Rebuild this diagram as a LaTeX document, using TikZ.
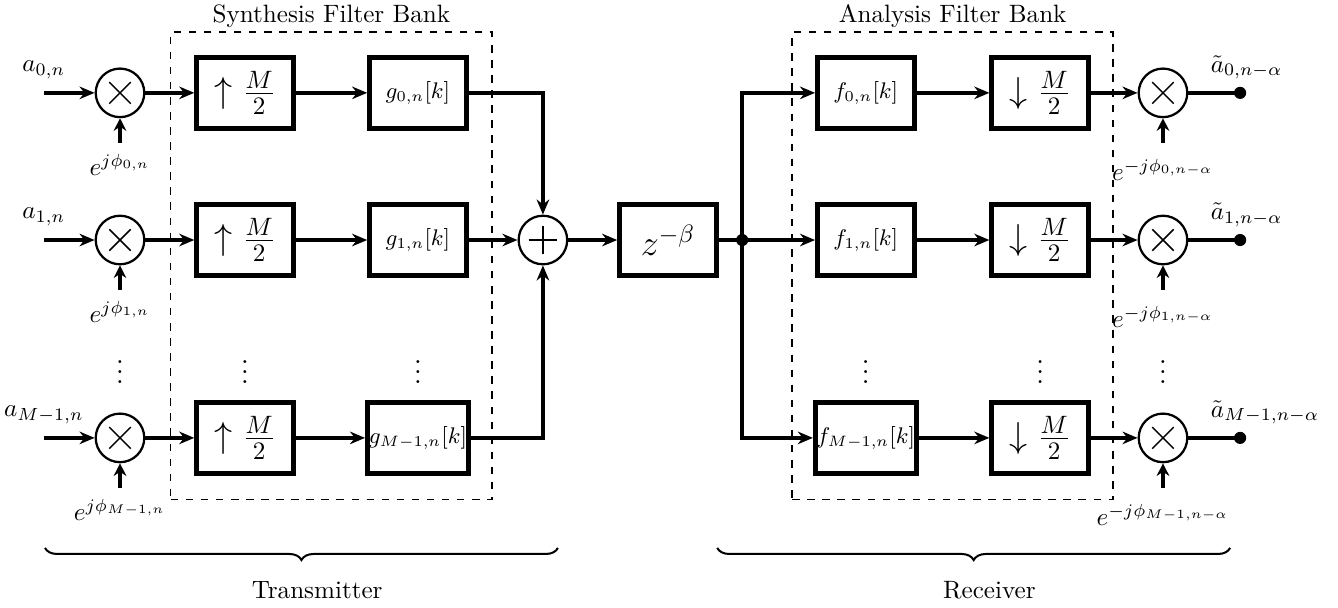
\documentclass[tikz,border=0pt]{standalone}
\usepackage{tikz}
\usetikzlibrary{arrows.meta, positioning, decorations.pathreplacing}
\tikzset{
    block/.style = {rectangle, minimum width=1.35cm, minimum height=1cm, align=center, inner sep=0.5pt, draw=black, line width=2pt},
    mixer/.style = {circle, minimum size=0.68cm, inner sep=0pt, draw=black, line width=0.9pt,
        path picture={\draw[line width=0.6pt, shift={(path picture bounding box.center)}] (-0.15,-0.15) -- (0.15,0.15) (-0.15,0.15) -- (0.15,-0.15);}},
    adder/.style = {circle, minimum size=0.68cm, inner sep=0pt, draw=black, line width=0.9pt,
        path picture={\draw[line width=0.6pt, shift={(path picture bounding box.center)}] (-0.2,0) -- (0.2,0) (0,-0.2) -- (0,0.2);}},
    bank/.style = {rectangle, draw=black, dashed, line width=0.6pt, inner sep=0pt},
    tap/.style = {circle, fill=black, inner sep=0pt, minimum size=0.17cm},
    skip/.style = {inner sep=0pt, font=\large},
    sig/.style = {line width=1.6pt, -{Stealth[length=6pt, width=5pt]}},
    wire/.style = {line width=1.6pt},
    phase/.style = {line width=1.9pt, -{Stealth[length=5pt, width=5pt]}},
    curly/.style = {decorate, decoration={brace, mirror, amplitude=0.17cm}, line width=0.8pt}
}
\begin{document}
\begin{tikzpicture}
\useasboundingbox (0,0) rectangle (18.73,-8.5);

% ---- Filter banks (dashed frames) ----
\node[bank, minimum width=4.5cm, minimum height=6.54cm] (synth) at (4.64,-3.72) {};
\node[above=-2pt of synth] (synthlbl) {Synthesis Filter Bank};
\node[bank, minimum width=4.49cm, minimum height=6.54cm] (anal) at (13.335,-3.72) {};
\node[above=-2pt of anal] (anallbl) {Analysis Filter Bank};

% ---- Transmitter, branch 0 ----
\node[mixer] (m0) at (1.68,-1.30) {};
\node[block] (up0) at (3.43,-1.30) {\Large $\uparrow \frac{M}{2}$};
\node[block] (g0) at (5.85,-1.30) {\small $g_{0,n}[k]$};
\coordinate[left=0.71cm of m0] (in0);
\coordinate[below=0.34cm of m0] (ph0);
\node[above=2pt of in0] (a0) {$a_{0,n}$};
\node[below=1pt of ph0] (e0) {$e^{j\phi_{0,n}}$};

% ---- Transmitter, branch 1 ----
\node[mixer] (m1) at (1.68,-3.36) {};
\node[block] (up1) at (3.43,-3.36) {\Large $\uparrow \frac{M}{2}$};
\node[block] (g1) at (5.85,-3.36) {\small $g_{1,n}[k]$};
\coordinate[left=0.71cm of m1] (in1);
\coordinate[below=0.34cm of m1] (ph1);
\node[above=2pt of in1] (a1) {$a_{1,n}$};
\node[below=1pt of ph1] (e1) {$e^{j\phi_{1,n}}$};

% ---- Transmitter, branch M-1 ----
\node[mixer] (m2) at (1.68,-6.13) {};
\node[block] (up2) at (3.43,-6.13) {\Large $\uparrow \frac{M}{2}$};
\node[block] (g2) at (5.85,-6.13) {\small $g_{M-1,n}[k]$};
\coordinate[left=0.71cm of m2] (in2);
\coordinate[below=0.34cm of m2] (ph2);
\node[above=2pt of in2] (a2) {$a_{M-1,n}$};
\node[below=1pt of ph2] (e2) {$e^{j\phi_{M-1,n}}$};

\node[skip] (dotsm) at (1.68,-5.1) {$\vdots$};
\node[skip] (dotsup) at (3.43,-5.1) {$\vdots$};
\node[skip] (dotsg) at (5.85,-5.1) {$\vdots$};

% ---- Channel ----
\node[adder] (sum) at (7.6,-3.36) {};
\node[block] (delay) at (9.35,-3.36) {\Large $z^{-\beta}$};
\node[tap] (branch) at (10.39,-3.36) {};

% ---- Receiver, branch 0 ----
\node[block] (f0) at (12.12,-1.30) {\small $f_{0,n}[k]$};
\node[block] (down0) at (14.56,-1.30) {\Large $\downarrow \frac{M}{2}$};
\node[mixer] (d0) at (16.28,-1.30) {};
\node[tap] (out0) at (17.36,-1.30) {};
\coordinate[below=0.34cm of d0] (pr0);
\node[above right=0pt and -0.6cm of out0] (t0) {$\tilde{a}_{0,n-\alpha}$};
\node[below=3pt of pr0] (r0) {$e^{-j\phi_{0,n-\alpha}}$};

% ---- Receiver, branch 1 ----
\node[block] (f1) at (12.12,-3.36) {\small $f_{1,n}[k]$};
\node[block] (down1) at (14.56,-3.36) {\Large $\downarrow \frac{M}{2}$};
\node[mixer] (d1) at (16.28,-3.36) {};
\node[tap] (out1) at (17.36,-3.36) {};
\coordinate[below=0.34cm of d1] (pr1);
\node[above right=0pt and -0.6cm of out1] (t1) {$\tilde{a}_{1,n-\alpha}$};
\node[below=3pt of pr1] (r1) {$e^{-j\phi_{1,n-\alpha}}$};

% ---- Receiver, branch M-1 ----
\node[block] (f2) at (12.12,-6.13) {\small $f_{M-1,n}[k]$};
\node[block] (down2) at (14.56,-6.13) {\Large $\downarrow \frac{M}{2}$};
\node[mixer] (d2) at (16.28,-6.13) {};
\node[tap] (out2) at (17.36,-6.13) {};
\coordinate[below=0.34cm of d2] (pr2);
\node[above right=0pt and -0.6cm of out2] (t2) {$\tilde{a}_{M-1,n-\alpha}$};
\node[below=3pt of pr2] (r2) {$e^{-j\phi_{M-1,n-\alpha}}$};

\node[skip] (dotsf) at (12.12,-5.1) {$\vdots$};
\node[skip] (dotsdown) at (14.56,-5.1) {$\vdots$};
\node[skip] (dotsd) at (16.28,-5.1) {$\vdots$};

% ---- Arrows ----
\draw[sig] (in0) -- (m0);
\draw[sig] (in1) -- (m1);
\draw[sig] (in2) -- (m2);
\draw[phase] (ph0) -- (m0.south);
\draw[phase] (ph1) -- (m1.south);
\draw[phase] (ph2) -- (m2.south);
\draw[sig] (m0) -- (up0);
\draw[sig] (m1) -- (up1);
\draw[sig] (m2) -- (up2);
\draw[sig] (up0) -- (g0);
\draw[sig] (up1) -- (g1);
\draw[sig] (up2) -- (g2);
\draw[sig] (g0.east) -| (sum.north);
\draw[sig] (g1) -- (sum);
\draw[sig] (g2.east) -| (sum.south);
\draw[sig] (sum) -- (delay);
\draw[wire] (delay) -- (branch.center);
\draw[sig] (branch.center) |- (f0.west);
\draw[sig] (branch.center) -- (f1.west);
\draw[sig] (branch.center) |- (f2.west);
\draw[sig] (f0) -- (down0);
\draw[sig] (f1) -- (down1);
\draw[sig] (f2) -- (down2);
\draw[sig] (down0) -- (d0);
\draw[sig] (down1) -- (d1);
\draw[sig] (down2) -- (d2);
\draw[phase] (pr0) -- (d0.south);
\draw[phase] (pr1) -- (d1.south);
\draw[phase] (pr2) -- (d2.south);
\draw[wire] (d0) -- (out0.center);
\draw[wire] (d1) -- (out1.center);
\draw[wire] (d2) -- (out2.center);

% ---- Braces ----
\coordinate (txL) at (0.63,-7.67);
\coordinate (txR) at (7.81,-7.67);
\coordinate (rxL) at (10.04,-7.67);
\coordinate (rxR) at (17.22,-7.67);
\draw[curly] (txL) -- (txR) node[midway, below=0.34cm, xshift=0.22cm] (txlbl) {Transmitter};
\draw[curly] (rxL) -- (rxR) node[midway, below=0.34cm, xshift=0.22cm] (rxlbl) {Receiver};

\end{tikzpicture}
\end{document}
